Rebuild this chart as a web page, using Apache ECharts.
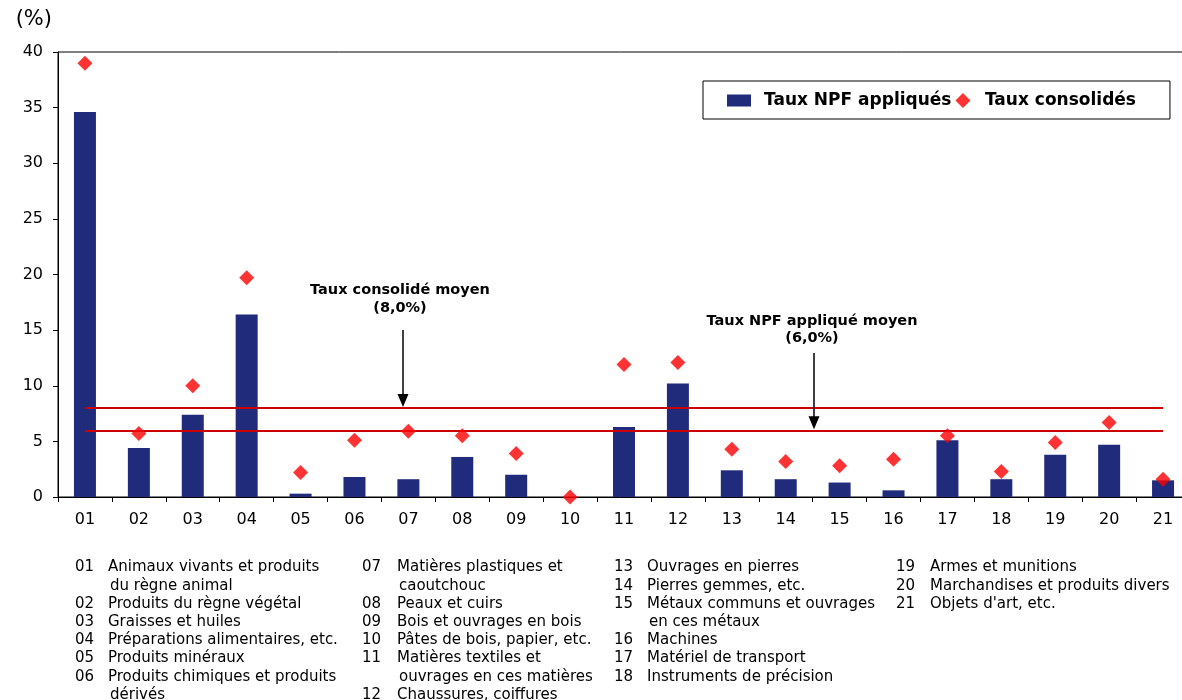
<!DOCTYPE html>
<html>
<head>
<meta charset="utf-8">
<script src="https://cdn.jsdelivr.net/npm/echarts@6/dist/echarts.min.js"></script>
<style>
  html, body { margin: 0; padding: 0; background: #ffffff; }
  #chart { width: 1182px; height: 700px; }
</style>
</head>
<body>
<div id="chart"></div>
<script>
// Chapitres du SH (sections) and tariff rates in %
const chapters = ['01', '02', '03', '04', '05', '06', '07', '08', '09', '10', '11',
                  '12', '13', '14', '15', '16', '17', '18', '19', '20', '21'];
const appliedRates = [34.6, 4.4, 7.4, 16.4, 0.3, 1.8, 1.6, 3.6, 2.0, 0.0, 6.3,
                      10.2, 2.4, 1.6, 1.3, 0.6, 5.1, 1.6, 3.8, 4.7, 1.5];
const boundRates = [39.0, 5.7, 10.0, 19.7, 2.2, 5.1, 5.9, 5.5, 3.9, 0.0, 11.9,
                    12.1, 4.3, 3.2, 2.8, 3.4, 5.5, 2.3, 4.9, 6.7, 1.6];
const avgBound = 8.0;
const avgApplied = 6.0;
const yTicks = { min: 0, max: 40, interval: 5 };

const seriesNames = ['Taux NPF appliqués', 'Taux consolidés'];
const avgLabels = ['Taux consolidé moyen\n(8,0%)', 'Taux NPF appliqué moyen\n(6,0%)'];

const chapterNames = [
  'Animaux vivants et produits\ndu règne animal',
  'Produits du règne végétal',
  'Graisses et huiles',
  'Préparations alimentaires, etc.',
  'Produits minéraux',
  'Produits chimiques et produits\ndérivés',
  'Matières plastiques et\ncaoutchouc',
  'Peaux et cuirs',
  'Bois et ouvrages en bois',
  'Pâtes de bois, papier, etc.',
  'Matières textiles et\nouvrages en ces matières',
  'Chaussures, coiffures',
  'Ouvrages en pierres',
  'Pierres gemmes, etc.',
  'Métaux communs et ouvrages\nen ces métaux',
  'Machines',
  'Matériel de transport',
  'Instruments de précision',
  'Armes et munitions',
  'Marchandises et produits divers',
  "Objets d'art, etc."
];

const FONT = "'DejaVu Sans', Verdana, sans-serif";
const BAR_COLOR = '#212B7B';
const DOT_COLOR = '#FF0000';
const AVG_COLOR = '#CC0000';

const chart = echarts.init(document.getElementById('chart'), null, { renderer: 'canvas' });

const option = {
  animation: false,
  backgroundColor: '#ffffff',
  textStyle: { fontFamily: FONT, color: '#000' },
  grid: {
    left: 58, top: 52, width: 1132, height: 445,
    outerBoundsMode: 'none',
    containLabel: false,
    show: true, borderColor: '#000', borderWidth: 1, backgroundColor: 'transparent'
  },
  legend: {
    left: 703, top: 81,
    itemWidth: 24, itemHeight: 15, itemGap: 4,
    symbolKeepAspect: true,
    borderColor: '#000', borderWidth: 1,
    padding: [11, 34, 10, 24],
    selectedMode: false,
    textStyle: { fontFamily: FONT, fontWeight: 'bold', fontSize: 17, color: '#000', padding: [0, 0, 0, 8] },
    data: [
      { name: seriesNames[0], icon: 'path://M0 0H24V12H0Z' },
      { name: seriesNames[1], icon: 'path://M7.5 0L15 7.5L7.5 15L0 7.5Z', textStyle: { padding: [0, 0, 0, 5] } }
    ]
  },
  xAxis: {
    type: 'category',
    data: chapters,
    axisLine: { lineStyle: { color: '#000', width: 1 } },
    axisTick: { show: true, length: 5, lineStyle: { color: '#000' } },
    axisLabel: { fontFamily: FONT, fontSize: 16, color: '#000', margin: 15 },
    splitLine: { show: false }
  },
  yAxis: {
    type: 'value',
    min: yTicks.min, max: yTicks.max, interval: yTicks.interval,
    name: '(%)',
    nameLocation: 'end',
    nameGap: 22,
    nameTextStyle: { fontFamily: FONT, fontSize: 21, color: '#000', align: 'right', padding: [0, 6, 0, 0] },
    axisLine: { show: true, lineStyle: { color: '#000', width: 1 } },
    axisTick: { show: true, length: 5, lineStyle: { color: '#000' } },
    axisLabel: { fontFamily: FONT, fontSize: 16, color: '#000', margin: 15 },
    splitLine: { show: false }
  },
  series: [
    {
      name: seriesNames[0],
      type: 'bar',
      data: appliedRates,
      barWidth: 22,
      itemStyle: { color: BAR_COLOR },
      z: 2,
      markLine: {
        silent: true,
        symbol: ['none', 'none'],
        label: { show: false },
        lineStyle: { color: AVG_COLOR, width: 2, type: 'solid' },
        z: 3,
        data: [
          [{ coord: [chapters[0], avgBound] }, { coord: [chapters[chapters.length - 1], avgBound] }],
          [{ coord: [chapters[0], avgApplied] }, { coord: [chapters[chapters.length - 1], avgApplied] }]
        ]
      }
    },
    {
      name: seriesNames[1],
      type: 'scatter',
      data: boundRates,
      symbol: 'diamond',
      symbolSize: 15,
      clip: false,
      itemStyle: { color: DOT_COLOR },
      z: 5
    }
  ]
};

chart.setOption(option);

// Annotations with arrows pointing at the two average lines
function arrow(x, yTop, yTip) {
  return [
    { type: 'line', shape: { x1: x, y1: yTop, x2: x, y2: yTip - 12 }, style: { stroke: '#000', lineWidth: 1.5 }, z: 10 },
    { type: 'polygon', shape: { points: [[x - 5.5, yTip - 13], [x + 5.5, yTip - 13], [x, yTip]] }, style: { fill: '#000' }, z: 10 }
  ];
}
const yBound = chart.convertToPixel({ yAxisIndex: 0 }, avgBound);
const yApplied = chart.convertToPixel({ yAxisIndex: 0 }, avgApplied);

const graphics = [];
graphics.push({
  type: 'text', x: 400, y: 299, z: 10,
  style: { text: avgLabels[0], font: 'bold 14.5px ' + FONT, fill: '#000', align: 'center', verticalAlign: 'middle', lineHeight: 18 }
});
graphics.push(...arrow(403, 330, yBound - 1));
graphics.push({
  type: 'text', x: 812, y: 330, z: 10,
  style: { text: avgLabels[1], font: 'bold 14.5px ' + FONT, fill: '#000', align: 'center', verticalAlign: 'middle', lineHeight: 17 }
});
graphics.push(...arrow(814, 353, yApplied - 1));

// Chapter key below the axis, four columns
const keyColumns = [
  { numX: 75, textX: 108, from: 0, to: 5 },
  { numX: 362, textX: 397, from: 6, to: 11 },
  { numX: 614, textX: 647, from: 12, to: 17 },
  { numX: 896, textX: 930, from: 18, to: 20 }
];
const keyTop = 567.5, keyStep = 18.2;
keyColumns.forEach(col => {
  let row = 0;
  for (let i = col.from; i <= col.to; i++) {
    const y = keyTop + row * keyStep;
    graphics.push({
      type: 'text', x: col.numX, y: y,
      style: { text: chapters[i], font: '15px ' + FONT, fill: '#000', align: 'left', verticalAlign: 'middle' }
    });
    const lines = chapterNames[i].split('\n');
    lines.forEach((ln, k) => {
      graphics.push({
        type: 'text', x: col.textX + (k > 0 ? 2 : 0), y: y + k * keyStep,
        style: { text: ln, font: '15px ' + FONT, fill: '#000', align: 'left', verticalAlign: 'middle' }
      });
    });
    row += lines.length;
  }
});

chart.setOption({ graphic: graphics });
</script>
</body>
</html>
